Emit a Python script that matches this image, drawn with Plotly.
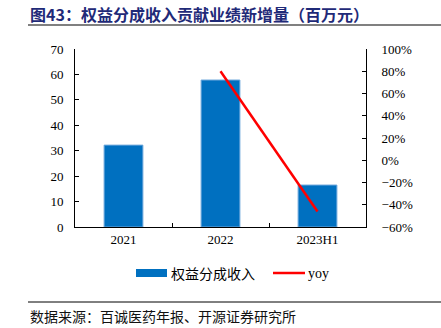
import plotly.graph_objects as go

# Data
categories = ["2021", "2022", "2023H1"]
revenue = [32.2, 57.8, 16.5]          # 权益分成收入 (百万元)
yoy_categories = ["2022", "2023H1"]
yoy = [0.80, -0.46]                   # 同比增速

left_ticks = [0, 10, 20, 30, 40, 50, 60, 70]
right_ticks = [-0.6, -0.4, -0.2, 0, 0.2, 0.4, 0.6, 0.8, 1.0]

BAR_COLOR = "#0070C0"
LINE_COLOR = "#FF0000"
NUM_FONT = "Liberation Serif"
CJK_FONT = "Noto Sans CJK SC"
W, H = 441, 328
ML, MR, MT, MB = 75, 75, 49, 101
PW, PH = W - ML - MR, H - MT - MB


# paper coordinates are relative to the plot area; convert from pixels
def px_x(v):
    return (v - ML) / PW


def px_y(v):
    return (H - MB - v) / PH


fig = go.Figure()
fig.add_trace(go.Bar(
    x=categories, y=revenue, name="权益分成收入",
    marker=dict(color=BAR_COLOR, line=dict(color="#6FA8DC", width=1)),
    width=0.4, yaxis="y",
))
fig.add_trace(go.Scatter(
    x=yoy_categories, y=yoy, name="yoy", mode="lines",
    line=dict(color=LINE_COLOR, width=2.5), yaxis="y2",
))

axis_common = dict(
    showgrid=False, zeroline=False, showline=True, linecolor="#000",
    linewidth=1, ticks="inside", ticklen=4, tickcolor="#000",
    tickfont=dict(family=NUM_FONT, size=13, color="#000"),
)

fig.update_layout(
    width=W, height=H,
    margin=dict(l=ML, r=MR, t=MT, b=MB),
    paper_bgcolor="white", plot_bgcolor="white",
    showlegend=False,
    xaxis=dict(**axis_common, tickson="boundaries", type="category"),
    yaxis=dict(**axis_common, range=[0, 70], tickvals=left_ticks, ticklabelstandoff=8),
    yaxis2=dict(**axis_common, range=[-0.6, 1.0], tickvals=right_ticks,
                tickformat=".0%", overlaying="y", side="right", ticklabelstandoff=12),
    font=dict(family=NUM_FONT, color="#000"),
)


def note(x, y, text, font):
    fig.add_annotation(x=px_x(x), y=px_y(y), xref="paper", yref="paper",
                       xanchor="left", yanchor="middle", showarrow=False,
                       text=text, font=font)


# Title and source line
note(28, 14, "<b>图43：权益分成收入贡献业绩新增量（百万元）</b>",
     dict(family=CJK_FONT, size=16, color="#1F2A78"))
note(28, 316, "数据来源：百诚医药年报、开源证券研究所",
     dict(family=CJK_FONT, size=14, color="#111"))

# Legend entries
note(169, 273, "权益分成收入", dict(family=CJK_FONT, size=14, color="#000"))
note(306, 273, "yoy", dict(family=NUM_FONT, size=14, color="#000"))

shapes = [
    dict(type="line", xref="paper", yref="paper", x0=px_x(28), x1=px_x(W),
         y0=px_y(25), y1=px_y(25), line=dict(color="#808080", width=2)),
    dict(type="line", xref="paper", yref="paper", x0=px_x(28), x1=px_x(W),
         y0=px_y(302), y1=px_y(302), line=dict(color="#000", width=1)),
    dict(type="rect", xref="paper", yref="paper", x0=px_x(136), x1=px_x(167),
         y0=px_y(277), y1=px_y(269), fillcolor=BAR_COLOR, line=dict(width=0)),
    dict(type="line", xref="paper", yref="paper", x0=px_x(273), x1=px_x(305),
         y0=px_y(273), y1=px_y(273), line=dict(color=LINE_COLOR, width=2.5)),
]
fig.update_layout(shapes=shapes)

fig.write_html("out.html")
